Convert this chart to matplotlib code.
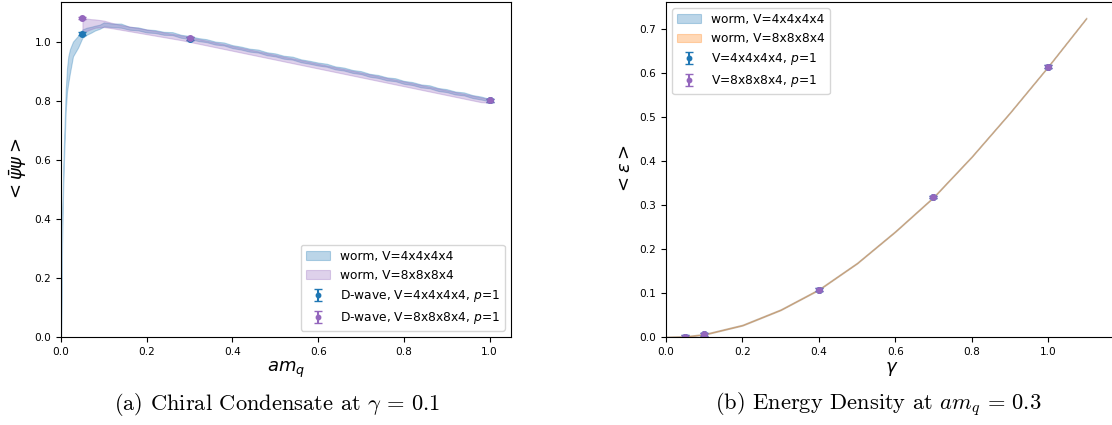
import matplotlib
matplotlib.use("Agg")
import matplotlib.pyplot as plt
import numpy as np

# ---------------- data: panel (a) chiral condensate vs am_q ----------------
worm4_mq = [0.0, 0.0015, 0.003, 0.0063, 0.011, 0.014, 0.017, 0.021, 0.028, 0.04,
            0.05, 0.06, 0.07, 0.08, 0.09, 0.10,
            0.12, 0.14, 0.16, 0.18, 0.20, 0.22, 0.24, 0.26, 0.28, 0.30,
            0.32, 0.34, 0.36, 0.38, 0.40, 0.42, 0.44, 0.46, 0.48, 0.50,
            0.52, 0.54, 0.56, 0.58, 0.60, 0.62, 0.64, 0.66, 0.68, 0.70,
            0.72, 0.74, 0.76, 0.78, 0.80, 0.82, 0.84, 0.86, 0.88, 0.90,
            0.92, 0.94, 0.96, 0.98, 1.00]
worm4_pbp = [0.0, 0.2, 0.4, 0.6, 0.8, 0.87, 0.905, 0.935, 0.975, 1.0,
             1.027, 1.035, 1.04, 1.046, 1.05, 1.058,
             1.055, 1.054, 1.045, 1.043, 1.036, 1.034, 1.028, 1.027, 1.018, 1.014,
             1.007, 1.003, 0.995, 0.992, 0.983, 0.978, 0.971, 0.968, 0.959, 0.955,
             0.947, 0.944, 0.935, 0.930, 0.924, 0.920, 0.911, 0.907, 0.899, 0.895,
             0.886, 0.882, 0.874, 0.871, 0.862, 0.858, 0.850, 0.847, 0.838, 0.834,
             0.826, 0.823, 0.814, 0.809, 0.802]
worm4_err = [0.0, 0.015, 0.025, 0.03, 0.035, 0.04, 0.045, 0.04, 0.025, 0.02,
             0.014, 0.012, 0.01, 0.008, 0.007, 0.007,
             0.006, 0.007, 0.005, 0.005, 0.005, 0.005, 0.005, 0.005, 0.005, 0.005,
             0.005, 0.005, 0.005, 0.005, 0.005, 0.005, 0.005, 0.005, 0.005, 0.005,
             0.005, 0.005, 0.005, 0.005, 0.005, 0.005, 0.005, 0.005, 0.005, 0.005,
             0.005, 0.005, 0.005, 0.005, 0.005, 0.005, 0.005, 0.005, 0.005, 0.005,
             0.005, 0.005, 0.005, 0.005, 0.004]

worm8_mq = [0.05, 0.06, 0.07, 0.08, 0.10,
            0.12, 0.14, 0.16, 0.18, 0.20, 0.22, 0.24, 0.26, 0.28, 0.30,
            0.32, 0.34, 0.36, 0.38, 0.40, 0.42, 0.44, 0.46, 0.48, 0.50,
            0.52, 0.54, 0.56, 0.58, 0.60, 0.62, 0.64, 0.66, 0.68, 0.70,
            0.72, 0.74, 0.76, 0.78, 0.80, 0.82, 0.84, 0.86, 0.88, 0.90,
            0.92, 0.94, 0.96, 0.98, 1.00]
worm8_pbp = [1.054, 1.057, 1.059, 1.061, 1.060,
             1.054, 1.048, 1.043, 1.038, 1.033, 1.028, 1.023, 1.018, 1.013, 1.007,
             1.001, 0.995, 0.989, 0.983, 0.977, 0.971, 0.965, 0.959, 0.953, 0.947,
             0.941, 0.935, 0.929, 0.923, 0.917, 0.911, 0.905, 0.899, 0.893, 0.887,
             0.881, 0.875, 0.869, 0.863, 0.857, 0.851, 0.845, 0.839, 0.833, 0.827,
             0.821, 0.815, 0.809, 0.803, 0.799]
worm8_err = [0.026, 0.021, 0.017, 0.014, 0.011,
             0.009, 0.008, 0.008, 0.008, 0.008, 0.008, 0.008, 0.008, 0.008, 0.008,
             0.008, 0.008, 0.008, 0.008, 0.008, 0.008, 0.008, 0.008, 0.008, 0.008,
             0.008, 0.008, 0.008, 0.008, 0.008, 0.008, 0.008, 0.008, 0.008, 0.008,
             0.008, 0.008, 0.008, 0.008, 0.008, 0.008, 0.008, 0.008, 0.008, 0.008,
             0.008, 0.008, 0.008, 0.008, 0.006]

dwave4_mq = [0.05, 0.3, 1.0]
dwave4_pbp = [1.027, 1.010, 0.801]
dwave4_err = [0.004, 0.004, 0.004]
dwave8_mq = [0.05, 0.3, 1.0]
dwave8_pbp = [1.080, 1.011, 0.801]
dwave8_err = [0.004, 0.004, 0.004]

# ---------------- data: panel (b) energy density vs gamma ----------------
worm4_gamma = [0.0, 0.05, 0.1, 0.2, 0.3, 0.4, 0.5, 0.6, 0.7, 0.8, 0.9, 1.0, 1.1]
worm4_eps = [0.0, 0.001, 0.006, 0.027, 0.062, 0.108, 0.168, 0.240, 0.318, 0.410, 0.510, 0.615, 0.725]
worm4_eps_err = [0.001] * 13
worm8_gamma = [0.0, 0.05, 0.1, 0.2, 0.3, 0.4, 0.5, 0.6, 0.7, 0.8, 0.9, 1.0, 1.1]
worm8_eps = [0.0, 0.001, 0.006, 0.027, 0.062, 0.108, 0.168, 0.240, 0.318, 0.410, 0.510, 0.615, 0.725]
worm8_eps_err = [0.001] * 13

dwave4_gamma = [0.05, 0.1, 0.4, 0.7, 1.0]
dwave4_eps = [0.001, 0.006, 0.108, 0.318, 0.615]
dwave4_eps_err = [0.003, 0.003, 0.003, 0.003, 0.003]
dwave8_gamma = [0.05, 0.1, 0.4, 0.7, 1.0]
dwave8_eps = [0.001, 0.006, 0.108, 0.318, 0.615]
dwave8_eps_err = [0.003, 0.003, 0.003, 0.003, 0.003]

# ---------------- figure ----------------
W, H = 1112, 425
fig = plt.figure(figsize=(W / 100, H / 100), dpi=100)

tick_fs = 7.6
leg_fs = 8.8
label_fs = 13
cap_fs = 16.2

def px_axes(x0, x1, y0, y1):
    return fig.add_axes([x0 / W, 1 - y1 / H, (x1 - x0) / W, (y1 - y0) / H])

C0, C1, C4 = '#1f77b4', '#ff7f0e', '#9467bd'

# panel (a)
ax1 = px_axes(61, 511, 2, 337)
x = np.array(worm4_mq); y = np.array(worm4_pbp); e = np.array(worm4_err)
ax1.fill_between(x, y - e, y + e, color=C0, alpha=0.3, lw=0.8, label='worm, V=4x4x4x4')
x = np.array(worm8_mq); y = np.array(worm8_pbp); e = np.array(worm8_err)
ax1.fill_between(x, y - e, y + e, color=C4, alpha=0.3, lw=0.8, label='worm, V=8x8x8x4')
ax1.errorbar(dwave4_mq, dwave4_pbp, yerr=dwave4_err, fmt='o', color=C0, ms=4,
             capsize=3, label='D-wave, V=4x4x4x4, $p$=1')
ax1.errorbar(dwave8_mq, dwave8_pbp, yerr=dwave8_err, fmt='o', color=C4, ms=4,
             capsize=3, label='D-wave, V=8x8x8x4, $p$=1')
ax1.set_xlim(0, 1.05)
ax1.set_ylim(0, 1.134)
ax1.set_xticks([0.0, 0.2, 0.4, 0.6, 0.8, 1.0])
ax1.set_yticks([0.0, 0.2, 0.4, 0.6, 0.8, 1.0])
ax1.tick_params(labelsize=tick_fs)
ax1.set_xlabel('$am_q$', fontsize=label_fs, labelpad=2)
ax1.set_ylabel(r'$<\bar{\psi}\psi>$', fontsize=label_fs, labelpad=4)
ax1.legend(loc='lower right', fontsize=leg_fs, markerscale=0.8)

# panel (b)
ax2 = px_axes(666, 1118, 2, 337)
x = np.array(worm4_gamma); y = np.array(worm4_eps); e = np.array(worm4_eps_err)
ax2.fill_between(x, y - e, y + e, color=C0, alpha=0.3, lw=0.8, label='worm, V=4x4x4x4')
x = np.array(worm8_gamma); y = np.array(worm8_eps); e = np.array(worm8_eps_err)
ax2.fill_between(x, y - e, y + e, color=C1, alpha=0.3, lw=0.8, label='worm, V=8x8x8x4')
ax2.errorbar(dwave4_gamma, dwave4_eps, yerr=dwave4_eps_err, fmt='o', color=C0, ms=4,
             capsize=3, label='V=4x4x4x4, $p$=1')
ax2.errorbar(dwave8_gamma, dwave8_eps, yerr=dwave8_eps_err, fmt='o', color=C4, ms=4,
             capsize=3, label='V=8x8x8x4, $p$=1')
ax2.set_xlim(0, 1.183)
ax2.set_ylim(0, 0.7617)
ax2.set_xticks([0.0, 0.2, 0.4, 0.6, 0.8, 1.0])
ax2.set_yticks([0.0, 0.1, 0.2, 0.3, 0.4, 0.5, 0.6, 0.7])
ax2.tick_params(labelsize=tick_fs)
ax2.set_xlabel(r'$\gamma$', fontsize=label_fs, labelpad=2)
ax2.set_ylabel(r'$<\varepsilon>$', fontsize=label_fs, labelpad=4)
ax2.legend(loc='upper left', fontsize=leg_fs, markerscale=0.8)

# captions
fig.text(277 / W, 1 - 405 / H, r'(a) Chiral Condensate at $\gamma\,=\,0.1$',
         ha='center', va='center', fontsize=cap_fs, family='cmr10', math_fontfamily='cm')
fig.text(878 / W, 1 - 405 / H, r'(b) Energy Density at $am_q\,=\,0.3$',
         ha='center', va='center', fontsize=cap_fs, family='cmr10', math_fontfamily='cm')

fig.savefig('out.png', dpi=100)
